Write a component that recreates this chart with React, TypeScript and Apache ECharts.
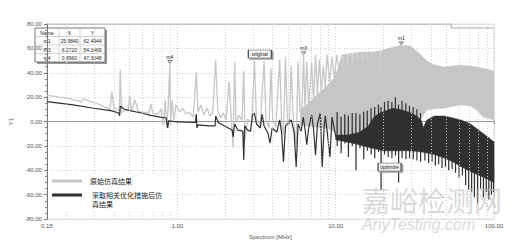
import React, { useEffect, useRef } from "react";
import * as echarts from "echarts";

const grayName = "原始仿真结果";
const blackName = "采取相关优化措施后仿真结果";

// original simulation: [MHz, dB]
const grayLine: number[][] = [
  [0.15, 21.4], [0.165, 20.8], [0.178, 20.1], [0.2, 19.3], [0.22, 17.7], [0.235, 17.2],
  [0.246, 16.0], [0.253, 18.5], [0.27, 17.6], [0.29, 16.0], [0.31, 14.8], [0.335, 12.8],
  [0.355, 11.5], [0.375, 9.5], [0.386, 24.2], [0.397, 11.0], [0.42, 9.5], [0.43, 8.5],
  [0.436, 42.3], [0.444, 7.0], [0.47, 9.6], [0.49, 8.8], [0.5, 21.5], [0.512, 8.2],
  [0.54, 17.7], [0.565, 8.6], [0.6, 7.5], [0.63, 7.8], [0.66, 6.8], [0.68, 14.4],
  [0.7, 6.6], [0.76, 6.2], [0.79, 10.5], [0.815, -2.8], [0.84, 17.7], [0.856, -5.3],
  [0.875, 12], [0.896, 47.3048], [0.906, -2.8], [0.925, 17.7], [0.95, 1.3], [0.98, 13.6],
  [1.036, 7.8], [1.08, 11.0], [1.13, 6.2], [1.19, 7.5], [1.26, 3.7], [1.316, 40.2],
  [1.35, 7.8], [1.41, 13.6], [1.47, 5.4], [1.54, 11.0], [1.6, 4.6], [1.67, 6.5],
  [1.746, 50.0], [1.8, 9.5], [1.87, 2.9], [1.95, 7.0], [2.03, 1.3], [2.126, 32.9],
  [2.19, 2.5], [2.25, -21.7], [2.3, 49.1], [2.35, -0.4], [2.45, 5.0], [2.56, 1.0],
  [2.627, 41.5], [2.68, -15.0], [2.78, 2.0], [2.95, -1.0], [3.068, 50.0], [3.16, 1.0],
  [3.34, -2.8], [3.53, 50.0], [3.63, 1.0], [3.79, -5.3], [3.9, 43.5], [4.0, 2.5],
  [4.18, -5.0], [4.43, 50.8], [4.55, 1.0], [4.68, -11.0], [4.82, 53.2], [4.95, 3.0],
  [5.09, -2.8], [5.24, 45.9], [5.38, 5.0], [5.63, -19.2], [5.79, 49.0], [5.95, 7.5],
  [6.1, 4.0], [6.272, 54.3469], [6.4, 9.5], [6.57, 49.0], [6.75, 11.0], [7.05, 48.3],
  [7.25, 17.7], [7.46, 54.8], [7.67, 21.8], [7.89, 50.8], [8.12, 24.2], [8.35, 45.1],
  [8.6, 27.5], [8.83, 54.8], [9.15, 32.5], [9.48, 53.2], [9.8, 35.8], [10.17, 54.8],
  [10.45, 44.0],
];

// dense part of the original curve: upper and lower edge of the filled band
const grayBandUpper: number[][] = [
  [6.0, 10], [6.5, 13.4], [7.46, 20.7], [8.6, 28], [9.8, 36], [10.4, 44], [10.9, 55],
  [11.0, 55], [11.07, 36], [11.14, 55], [11.8, 55.5], [11.88, 42], [11.96, 55.5],
  [12.67, 56], [12.75, 44], [12.83, 56], [13.6, 56.5], [13.68, 46], [13.76, 56.5],
  [14.6, 57], [14.68, 47], [14.76, 57], [15.67, 57], [15.75, 44], [15.83, 57],
  [16.82, 57], [16.9, 48], [16.98, 57], [17.8, 57.5], [17.88, 50], [17.96, 57.5],
  [19.1, 58], [19.19, 26], [19.28, 58], [20.9, 59.5], [23.0, 61], [25.98, 62.4944],
  [29.7, 61.9], [33.7, 56], [37.7, 49.6], [42.3, 46.4], [48.7, 44.7], [61.8, 46.4],
  [78.5, 44.7], [94.4, 42.3], [100, 41.5],
];
const grayBandLower: number[][] = [
  [6.0, -3], [7.0, -4], [8.0, -5], [9.0, -6], [10.0, -9], [12.0, -14], [15.0, -16],
  [20.0, -15], [25.0, -12], [30.0, -8], [33.0, -2], [35.9, 5.4], [37.7, 9.5],
  [42.3, 10.5], [48.7, 11.0], [55.0, 12.5], [61.8, 13.6], [71.2, 12.8], [78.5, 9.0],
  [85.5, 3.7], [100, 1.3],
];

// optimised simulation below 10 MHz: [MHz, dB]
const blackLine: number[][] = [
  [0.15, 16.3], [0.22, 13.6], [0.29, 11.1], [0.386, 8.7], [0.427, 7.0], [0.432, 4.6],
  [0.436, 12.8], [0.46, 10.3], [0.512, 8.7], [0.59, 7.0], [0.68, 5.0], [0.78, 3.7],
  [0.85, 2.9], [0.87, -5.3], [0.88, 0.5], [0.965, 0.0], [1.11, -0.4], [1.3, -0.8],
  [1.316, 6.2], [1.33, -5.3], [1.35, -2.8], [1.58, -3.6], [1.73, -3.6], [1.746, 4.6],
  [1.82, -1.0], [2.1, -5.3], [2.22, -7.0], [2.25, -12.7], [2.3, -2.0], [2.41, -7.0],
  [2.59, -7.8], [2.627, -31.5], [2.66, -3.6], [2.78, -7.0], [2.9, -7.8], [2.98, 5.4],
  [3.068, 7.0], [3.16, -2.0], [3.34, -5.3], [3.43, 6.0], [3.53, -3.6], [3.73, -9.4],
  [3.85, -17.6], [3.97, -5.3], [4.25, -8.6], [4.43, 1.3], [4.55, -8.6], [4.68, -33.0],
  [4.82, -3.6], [5.24, 1.3], [5.46, -8.6], [5.63, -37.3], [5.79, -2.0], [6.05, -7.8],
  [6.24, 3.7], [6.4, -6.1], [6.57, -19.0], [6.75, -5.3], [7.05, 5.4], [7.25, -6.1],
  [7.46, -27.4], [7.67, -2.0], [8.0, 7.0], [8.22, -37.3], [8.45, -5.3], [8.6, 4.6],
  [8.83, -7.8], [9.2, -29.0], [9.48, 3.7], [9.8, -6.1], [10.0, -12],
];

// optimised simulation above 10 MHz: vertical spikes (frequency, top, bottom, level between)
const blackSpikeF = [
  10.2, 10.8, 11.4, 12.0, 12.7, 13.4, 14.2, 15.0, 15.8, 16.7, 17.6, 18.6, 19.3, 20.3,
  21.4, 22.6, 23.8, 24.9, 26.2, 27.7, 29.2, 30.8, 32.5, 34.3,
  36.5, 38.5, 40.5, 42.5, 44.6, 46.8, 49.2, 51.6, 54.2, 57.0, 60.0, 63.0, 66.0, 69.0,
  72.0, 75.0, 78.5, 82.0, 85.5, 89.0, 92.5, 96.0, 99.0,
];
const blackSpikeTop = [
  7.8, 4, 6, 5, 7, 7, 6, 8, 9, 11, 12, 14, 12, 16,
  17, 16, 20, 14, 17, 15, 13, 12, 10, 7,
  -5, -1, 2, 3, 3, 3, 3, 2, 2, 1, 0, -1, -2, -3,
  -4, -6, -7, -9, -10, -12, -13, -15, -16,
];
const blackSpikeBottom = [
  -20, -26, -18, -29, -20, -40, -22, -31, -24, -27, -30, -25, -56, -27,
  -29, -30, -28, -50, -30, -31, -30, -31, -32, -33,
  -32, -34, -33, -36, -35, -38, -37, -40, -39, -42, -46, -44, -52, -56,
  -58, -62, -67, -55, -62, -58, -64, -60, -58,
];
const blackSpikeMid = [
  -13, -13, -13, -13, -13, -13, -13, -11, -9, -6, -4, -3, -3, -3,
  -3, -3, -3, -3, -4, -5, -6, -7, -9, -10,
  -12, -12, -12, -13, -13, -14, -15, -16, -17, -18, -20, -21, -22, -24,
  -26, -28, -30, -31, -32, -34, -35, -36, -37,
];

const blackBandUpper: number[][] = [
  [10, -11], [12, -11], [14, -9], [16, -4], [17.5, 4], [19, 7], [21, 9], [23, 11],
  [25, 10], [27, 9], [30, 7], [33, 4], [35, 0], [35.8, -5], [37.5, 1], [42, 4.5],
  [48.7, 4.5], [55, 3], [62, 1.3], [71, -2], [80, -7], [90, -12], [100, -16.8],
];
const blackBandLower: number[][] = [
  [10, -15], [12, -17], [14, -19], [16, -21], [20, -24], [25, -24], [30, -24], [35, -25],
  [42, -27], [48.7, -30], [55, -33], [62, -37], [71, -41], [80, -44], [90, -47], [100, -50],
];

const limitLine: number[][] = [[0.15, 80], [53.7, 80], [53.7, 76.7], [100, 76.7]];
const minorFreqs = [
  0.2, 0.3, 0.4, 0.5, 0.6, 0.7, 0.8, 0.9, 2, 3, 4, 5, 6, 7, 8, 9, 20, 30, 40, 50, 60, 70, 80, 90,
];

const markerNames = ["m1", "m3", "m4"];
const markerX = [25.984, 6.272, 0.896];
const markerY = [62.4944, 54.3469, 47.3048];

const tagNames = ["original", "optimize"];
const tagX = [3.32, 21.9];
const tagY = [55.4, -37.3];

const yTicks = { min: -80, max: 80, interval: 20 };
const xRange = { min: 0.15, max: 100 };

const GRAY = "#c6c6c6";
const BLACK = "#303030";
const NUM_FONT = "Liberation Sans, Arial, sans-serif";
const CJK_FONT = "Noto Sans CJK SC, sans-serif";

// black curve: low-frequency points followed by the spike shapes built from the spike arrays
const blackData: number[][] = blackLine.slice();
blackSpikeF.forEach((f, i) => {
  const e = f * 0.0015;
  blackData.push([f, blackSpikeMid[i]], [f + e, blackSpikeTop[i]], [f + 2 * e, blackSpikeBottom[i]], [f + 3 * e, blackSpikeMid[i]]);
});

function band(name: string, upper: number[][], lower: number[][], color: string) {
  return {
    type: "custom",
    name,
    silent: true,
    clip: true,
    z: 3,
    data: [[1, 0]],
    encode: { x: 0, y: 1 },
    renderItem: (_params: any, api: any) => {
      const pts = upper.concat(lower.slice().reverse()).map((p) => api.coord(p));
      return {
        type: "polygon",
        shape: { points: pts },
        style: { fill: color, stroke: color, lineWidth: 0.5 },
      };
    },
  };
}

function tableGraphic() {
  const x0 = 35, y0 = 28, colW = [24, 21, 25], rowH = 8.5;
  const w = colW[0] + colW[1] + colW[2];
  const h = rowH * 4;
  const children: any[] = [
    { type: "rect", shape: { x: x0 + 2, y: y0 + 2, width: w, height: h }, style: { fill: "#9a9a9a" } },
    { type: "rect", shape: { x: x0, y: y0, width: w, height: h }, style: { fill: "#fff", stroke: "#555", lineWidth: 0.8 } },
  ];
  for (let r = 1; r < 4; r++) {
    children.push({ type: "line", shape: { x1: x0, y1: y0 + r * rowH, x2: x0 + w, y2: y0 + r * rowH }, style: { stroke: "#aaa", lineWidth: 0.5 } });
  }
  let cx = x0;
  for (let c = 0; c < 2; c++) {
    cx += colW[c];
    children.push({ type: "line", shape: { x1: cx, y1: y0, x2: cx, y2: y0 + h }, style: { stroke: "#aaa", lineWidth: 0.5 } });
  }
  const rows = [["Name", "X", "Y"]].concat(
    markerNames.map((n, i) => [n, markerX[i].toFixed(4), markerY[i].toFixed(4)])
  );
  rows.forEach((row, r) => {
    let left = x0;
    row.forEach((t, c) => {
      children.push({
        type: "text",
        x: left + colW[c] / 2,
        y: y0 + r * rowH + rowH / 2 + 0.3,
        style: { text: t, fontSize: 5, fontFamily: NUM_FONT, fill: "#222", align: "center", verticalAlign: "middle" },
      });
      left += colW[c];
    });
  });
  return { type: "group", z: 100, children };
}

function legendGraphic() {
  const font = { fontSize: 7, fontFamily: CJK_FONT, fill: "#222", verticalAlign: "middle" };
  return {
    type: "group",
    z: 100,
    children: [
      { type: "rect", z: 100, shape: { x: 50, y: 175, width: 122, height: 35 }, style: { fill: "#fff" } },
      { type: "line", z: 101, shape: { x1: 52, y1: 181, x2: 82, y2: 181 }, style: { stroke: GRAY, lineWidth: 3 } },
      { type: "text", z: 101, x: 90, y: 181, style: { ...font, text: "原始仿真结果" } },
      { type: "line", z: 101, shape: { x1: 52, y1: 195, x2: 82, y2: 195 }, style: { stroke: BLACK, lineWidth: 3 } },
      { type: "text", z: 101, x: 92, y: 195, style: { ...font, text: "采取相关优化措施后仿" } },
      { type: "text", z: 101, x: 92, y: 204, style: { ...font, text: "真结果" } },
    ],
  };
}

const tagStyle = (name: string, i: number) => ({
  name,
  coord: [tagX[i], tagY[i]],
  symbol: "rect",
  symbolSize: [23, 8],
  symbolRotate: 0,
  symbolOffset: [0, 0],
  itemStyle: { color: "#f2f2f2", borderColor: "#555", borderWidth: 0.8, shadowColor: "#999", shadowOffsetX: 1.5, shadowOffsetY: 1.5, shadowBlur: 0 },
  label: { show: true, position: "inside", formatter: name, fontSize: 5, color: "#222", fontFamily: NUM_FONT },
});

export default function App() {
  const ref = useRef<HTMLDivElement>(null);
  useEffect(() => {
    if (!ref.current) return;
    const chart = echarts.init(ref.current, undefined, { renderer: "svg" });
    chart.setOption({
      animation: false,
      backgroundColor: "#fff",
      grid: { left: 33, right: 21, top: 24, bottom: 24, show: true, borderColor: "#ddd", borderWidth: 1 },
      xAxis: {
        type: "log",
        logBase: 10,
        min: xRange.min,
        max: xRange.max,
        name: "Spectrum [MHz]",
        nameLocation: "middle",
        nameGap: 12,
        nameTextStyle: { fontSize: 6, color: "#555", fontFamily: NUM_FONT },
        axisLine: { lineStyle: { color: "#999", width: 1 } },
        axisTick: { show: true, length: 2, lineStyle: { color: "#777" } },
        axisLabel: { formatter: (v: number) => v.toFixed(2), fontSize: 6, color: "#555", fontFamily: NUM_FONT, margin: 4 },
        splitLine: { show: true, lineStyle: { color: "#ccc", type: [1, 2], width: 1 } },
      },
      yAxis: {
        type: "value",
        min: yTicks.min,
        max: yTicks.max,
        interval: yTicks.interval,
        name: "Y1",
        nameLocation: "middle",
        nameGap: 24,
        nameTextStyle: { fontSize: 6, color: "#555", fontFamily: NUM_FONT },
        axisLine: { show: true, lineStyle: { color: "#777", width: 1 } },
        axisTick: { show: true, length: 3, lineStyle: { color: "#777" } },
        minorTick: { show: true, splitNumber: 4, length: 2, lineStyle: { color: "#888" } },
        axisLabel: { formatter: (v: number) => v.toFixed(2), fontSize: 6, color: "#555", fontFamily: NUM_FONT, margin: 5 },
        splitLine: { show: true, lineStyle: { color: "#ccc", type: [1, 2], width: 1 } },
      },
      series: [
        {
          type: "line",
          name: "limit",
          z: 1,
          data: limitLine,
          showSymbol: false,
          silent: true,
          lineStyle: { color: "#a8a8a8", width: 1 },
          markLine: {
            silent: true,
            symbol: "none",
            label: { show: false },
            lineStyle: { color: "#ccc", type: [1, 2], width: 1 },
            data: minorFreqs.map((f) => ({ xAxis: f })),
          },
        },
        band("grayBand", grayBandUpper, grayBandLower, GRAY),
        {
          type: "line",
          name: grayName,
          z: 3,
          data: grayLine,
          showSymbol: false,
          clip: true,
          lineStyle: { color: GRAY, width: 1.3 },
          itemStyle: { color: GRAY },
          markPoint: {
            symbol: "triangle",
            symbolSize: [4, 3],
            symbolRotate: 180,
            symbolOffset: [0, -2],
            itemStyle: { color: "#fff", borderColor: "#444", borderWidth: 0.7 },
            label: { show: true, position: "top", distance: 1, fontSize: 5, color: "#222", fontFamily: NUM_FONT, formatter: (p: any) => p.name },
            data: markerNames
              .map((n, i) => ({ name: n, coord: [markerX[i], markerY[i]] }) as any)
              .concat([tagStyle(tagNames[0], 0)]),
          },
        },
        band("blackBand", blackBandUpper, blackBandLower, BLACK),
        {
          type: "line",
          name: blackName,
          z: 3,
          data: blackData,
          showSymbol: false,
          clip: true,
          lineStyle: { color: BLACK, width: 1.2 },
          itemStyle: { color: BLACK },
          markPoint: { data: [tagStyle(tagNames[1], 1)] },
        },
      ],
      graphic: [
        tableGraphic(),
        legendGraphic(),
        {
          type: "text",
          left: 362,
          top: 186,
          z: 120,
          silent: true,
          style: { text: "嘉峪检测网", fontSize: 28, fontFamily: CJK_FONT, fill: "rgba(185,185,185,0.55)" },
        },
        {
          type: "text",
          left: 362,
          top: 216,
          z: 120,
          silent: true,
          style: { text: "AnyTesting.com", fontSize: 16, fontStyle: "italic", fontFamily: NUM_FONT, fill: "rgba(185,185,185,0.55)" },
        },
      ],
    });
    return () => chart.dispose();
  }, []);
  return <div ref={ref} style={{ position: "fixed", left: 0, top: 0, width: 515, height: 245 }} />;
}
